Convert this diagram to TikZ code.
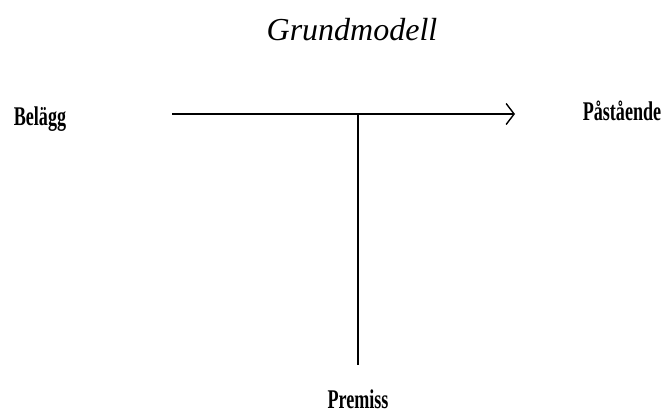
\documentclass[tikz,border=0pt]{standalone}
\usepackage{fontspec}
\setmainfont{Liberation Serif}
\usetikzlibrary{arrows.meta}
\tikzset{
  lbl/.style={anchor=base,inner sep=0pt,font=\fontsize{27}{30}\selectfont\bfseries},
  ttl/.style={anchor=base,inner sep=0pt,font=\fontsize{32}{36}\selectfont\itshape},
  ln/.style={line width=1.4pt,black}
}
\newcommand{\cond}[1]{\scalebox{0.67}[1]{#1}}
\begin{document}
\begin{tikzpicture}[x=1pt,y=-1pt]
\useasboundingbox (0,0) rectangle (667,415);
\node[ttl] (title) at (352,40) {Grundmodell};
\node[lbl] (belagg) at (40,125) {\cond{Belägg}};
\node[lbl] (past) at (622,120) {\cond{Påstående}};
\node[lbl] (prem) at (358,408) {\cond{Premiss}};
\coordinate (L) at (172,114);
\coordinate (R) at (515,114);
\coordinate (T) at (358,114);
\coordinate (B) at (358,365);
\draw[ln,-{Straight Barb[length=8pt,width=21pt]}] (L) -- (R);
\draw[ln] (T) -- (B);
\end{tikzpicture}
\end{document}
